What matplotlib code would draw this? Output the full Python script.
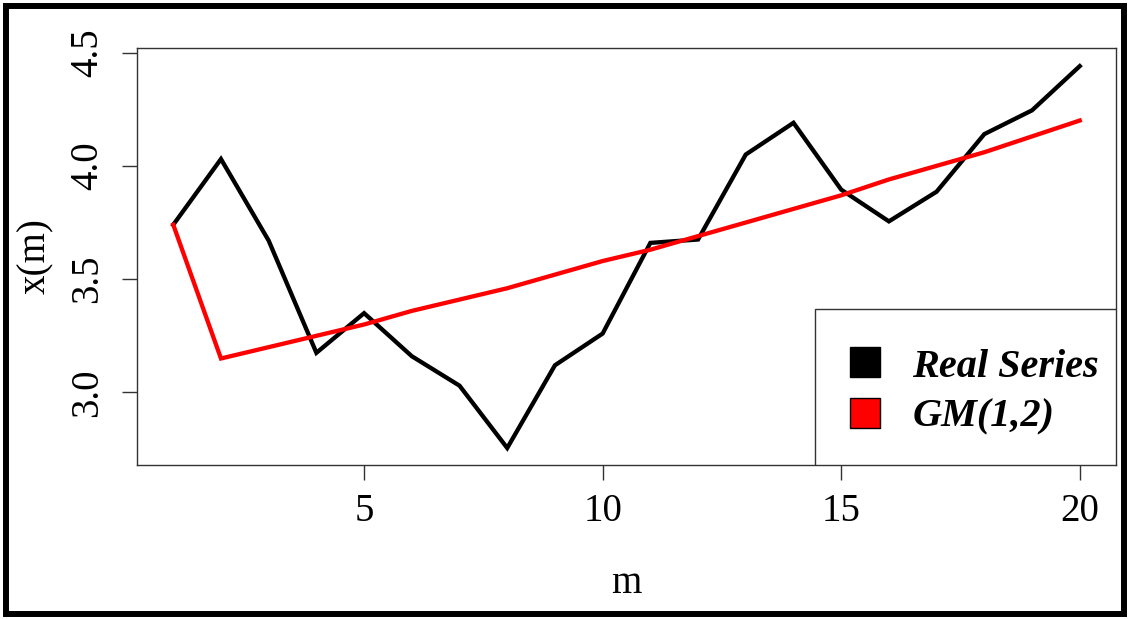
import matplotlib.pyplot as plt
from matplotlib.lines import Line2D
from matplotlib.patches import Rectangle

plt.rcParams['font.family'] = ['Liberation Serif', 'DejaVu Serif']

m = list(range(1, 21))
real_series = [3.74, 4.03, 3.67, 3.175, 3.35, 3.16, 3.03, 2.755, 3.12, 3.26,
               3.66, 3.675, 4.05, 4.19, 3.895, 3.755, 3.886, 4.14, 4.245, 4.44]
gm12 = [3.74, 3.15, 3.20, 3.25, 3.30, 3.36, 3.41, 3.46, 3.52, 3.58,
        3.63, 3.69, 3.75, 3.81, 3.87, 3.94, 4.00, 4.06, 4.13, 4.20]
labels = ["Real Series", "GM(1,2)"]
colors = ["black", "red"]

fig = plt.figure(figsize=(11.29, 6.19), dpi=100)
ax = fig.add_axes([137/1129, 1 - 465/619, 979/1129, 417/619])

ax.plot(m, real_series, color=colors[0], lw=3.1, solid_joinstyle='miter')
ax.plot(m, gm12, color=colors[1], lw=3.1, solid_joinstyle='miter')

ax.set_xlim(0.24, 20.76)
ax.set_ylim(2.68, 4.52)
ax.set_xticks([5, 10, 15, 20])
ax.set_yticks([3.0, 3.5, 4.0, 4.5])
ax.set_yticklabels(["3.0", "3.5", "4.0", "4.5"], rotation=90, va='center')

for s in ax.spines.values():
    s.set_linewidth(1.0)
    s.set_color('#333333')
ax.tick_params(length=11, width=1.0, color='#333333', labelsize=28, pad=9)
ax.tick_params(axis='y', pad=11)

ax.set_xlabel("m", fontsize=28)
ax.set_ylabel("x(m)", fontsize=28)
ax.xaxis.set_label_coords(0.5, -0.283)
ax.yaxis.set_label_coords(-0.104, 0.5)
ax.xaxis.label.set_va('center')
ax.yaxis.label.set_va('center')

# legend box (R style, bottom right)
ax.add_patch(Rectangle((678/979, 0), 1 - 678/979, 156/417, transform=ax.transAxes,
                       facecolor='white', edgecolor='#333333', lw=1.0, zorder=4))
handles = [Line2D([], [], ls='none', marker='s', markersize=21,
                  markerfacecolor=c, markeredgecolor='black', markeredgewidth=1)
           for c in colors]
leg = ax.legend(handles, labels, loc='center left',
                bbox_to_anchor=(704/979, 73/417), borderaxespad=0, borderpad=0,
                frameon=False, prop={'size': 29, 'weight': 'bold', 'style': 'italic'},
                handlelength=1.2, handletextpad=0.57, labelspacing=0.32)
leg.set_zorder(5)

fig.add_artist(Rectangle((5.5/1129, 5.5/619), 1 - 11/1129, 1 - 11/619,
                         transform=fig.transFigure, fill=False,
                         edgecolor='black', lw=4.3))

fig.savefig("out.png", dpi=100)
